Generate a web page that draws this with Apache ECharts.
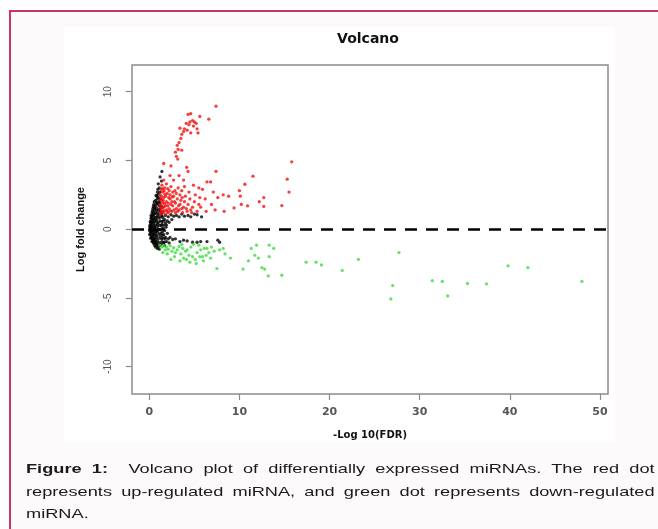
<!DOCTYPE html>
<html><head><meta charset="utf-8">
<script src="https://cdn.jsdelivr.net/npm/echarts@6/dist/echarts.min.js"></script>
<style>
html,body{margin:0;padding:0;width:658px;height:529px;overflow:hidden;background:#fff;}
#frame{position:absolute;left:9px;top:10px;width:720px;height:600px;border:2px solid #c8375f;background:#fdfafb;box-sizing:border-box;}
#img{position:absolute;left:64px;top:27px;width:551px;height:415px;background:#fff;}
#chart{position:absolute;left:0;top:0;width:658px;height:529px;}
.cap{position:absolute;left:26px;width:449px;font-family:"Liberation Sans",Arial,sans-serif;font-size:13px;line-height:16px;color:#1a1a1a;white-space:nowrap;transform:scaleX(1.4);transform-origin:0 0;}
.just{text-align:justify;text-align-last:justify;white-space:normal;}
</style>
</head><body>
<div id="frame"></div>
<div id="img"></div>
<div id="chart"></div>
<div class="cap just" style="top:461px"><b>Figure 1:</b>&nbsp; Volcano plot of differentially expressed miRNAs. The red dot</div>
<div class="cap just" style="top:483.5px">represents up-regulated miRNA, and green dot represents down-regulated</div>
<div class="cap" style="top:506px">miRNA.</div>
<script>
const xTicks = [0, 10, 20, 30, 40, 50];
const yTicks = [-10, -5, 0, 5, 10];

const blackPts = [
[0.7,2.1],[0.9,2.2],[1.1,2.0],[0.8,1.95],[0.5,1.8],[0.7,1.75],[0.9,1.85],[1.1,1.7],[0.6,1.6],
[0.4,1.5],[0.6,1.45],[0.8,1.55],[1.0,1.4],[1.2,1.5],[0.35,1.35],
[0.3,1.2],[0.5,1.25],[0.7,1.15],[0.9,1.2],[1.1,1.1],[1.3,1.2],[0.4,1.05],
[0.25,0.9],[0.45,0.95],[0.65,0.85],[0.85,0.9],[1.05,0.8],[1.25,0.9],[1.5,0.85],[0.3,0.75],
[0.2,0.6],[0.4,0.65],[0.6,0.55],[0.8,0.6],[1.0,0.5],[1.2,0.6],[1.4,0.55],[0.15,0.45],
[0.15,0.3],[0.3,0.35],[0.5,0.25],[0.7,0.3],[0.9,0.2],[1.1,0.3],[1.3,0.25],[0.1,0.15],
[0.08,0.05],[0.2,0.0],[0.4,-0.05],[0.6,0.05],[0.8,-0.1],[1.0,0.0],[1.2,-0.05],[0.1,-0.15],
[0.12,-0.3],[0.3,-0.25],[0.5,-0.35],[0.7,-0.3],[0.9,-0.2],[1.1,-0.35],[1.3,-0.3],[0.2,-0.45],
[0.25,-0.6],[0.4,-0.55],[0.6,-0.65],[0.8,-0.6],[1.0,-0.7],[1.2,-0.55],[1.5,-0.65],[0.35,-0.75],
[0.4,-0.9],[0.55,-0.85],[0.75,-0.95],[0.95,-0.9],[1.15,-1.0],[1.4,-0.9],[0.5,-1.05],
[0.6,-1.2],[0.8,-1.15],[1.0,-1.25],[1.2,-1.2],[0.9,-1.4],[1.1,-1.45],
[0.55,2.0],[1.0,1.9],[0.45,1.65],[0.75,1.35],[0.55,1.1],[0.35,1.0],[0.95,1.0],[0.2,0.8],
[0.55,0.75],[0.75,0.7],[0.3,0.5],[0.5,0.45],[0.9,0.4],[0.25,0.2],[0.6,0.15],[0.35,0.1],
[0.15,-0.05],[0.5,-0.15],[0.7,-0.15],[0.25,-0.15],[0.4,-0.4],[0.6,-0.45],[0.85,-0.45],[0.3,-0.65],
[0.5,-0.75],[0.7,-0.8],[0.45,-0.95],[0.65,-1.0],[0.85,-1.1],[0.7,-1.3],[1.3,-1.1],[1.6,-0.4],
[1.6,0.3],[1.7,0.7],[1.4,1.0],[1.2,1.35],[1.3,1.7],[1.0,2.3],[0.85,2.4],
[1.5,0.1],[1.7,-0.1],[1.8,0.45],[1.45,-0.2],[1.55,0.6],[1.75,-0.7],[1.45,-0.45],[1.4,0.35],
[1.85,0.15],[1.65,-0.95],[1.35,-0.7],[1.5,1.25],[1.45,1.6],[0.02,-0.05],[0.05,0.25],[0.05,-0.4],
[0.1,0.55],[0.15,-0.65],[0.2,1.0],[0.3,-0.9],[1.15,1.9],[1.25,2.2],[0.75,2.45],[1.55,-1.0],
[1.2,3.8],[1.0,3.3],[1.1,3.0],[0.9,2.7],[1.0,2.55],[1.2,2.7],[0.95,2.9],[1.4,4.2],[1.35,3.5],
[1.8,1.0],[2.1,0.9],[2.4,1.05],[2.7,0.95],[3.0,1.0],[3.3,0.9],[3.6,1.1],[3.9,0.95],[4.3,1.0],
[4.6,0.9],[5.0,1.1],[5.3,1.05],[5.8,0.9],[2.0,0.6],[2.5,0.7],[1.9,0.3],[2.2,0.5],
[1.8,-0.6],[2.1,-0.7],[2.3,-0.6],[2.6,-0.75],[2.9,-0.7],[3.4,-0.9],[3.8,-0.8],[4.2,-0.85],
[4.8,-0.95],[5.3,-0.95],[5.7,-0.9],[6.4,-0.9],[7.6,-0.8],[7.8,-0.95],[1.9,-0.9],[2.2,-1.0],
[1.7,-1.2],[2.0,-0.3]
];

const redPts = [
[7.4,8.95],[6.6,8.0],[5.6,8.2],[4.3,8.35],[4.6,8.4],[4.8,7.9],[5.0,7.8],[5.2,7.7],[4.5,7.8],
[4.1,7.7],[4.4,7.6],[4.9,7.5],[5.3,7.3],[3.9,7.3],[4.2,7.2],[4.6,7.0],[3.8,7.1],[3.6,6.9],
[3.5,6.6],[3.3,6.3],[3.1,6.1],[3.2,5.8],[2.9,5.6],[3.0,5.3],[3.15,5.1],[5.4,7.0],[3.4,7.35],
[3.6,5.75],
[1.6,4.78],[2.4,4.6],[4.15,4.5],[4.3,4.2],[7.4,4.2],[6.4,3.44],[6.8,3.44],[2.3,3.9],[3.3,3.9],
[2.7,3.57],[3.8,3.57],[1.6,3.57],[15.8,4.9],[15.3,3.64],[15.5,2.7],[11.5,3.86],[14.7,1.72],
[12.7,2.3],[12.7,1.66],[12.2,2.0],[10.6,3.27],[10.0,2.8],[10.1,2.4],[10.9,1.7],[10.2,1.8],
[9.4,1.55],[8.8,2.4],[8.2,2.5],[7.6,2.3],[8.3,1.3],[7.3,1.4],[6.3,1.3],[5.7,1.6],[6.9,1.8],
[7.1,2.7],[5.9,2.9],[6.2,2.2],[5.5,3.0],[4.9,3.2],
[1.2,1.1],[1.3,1.4],[1.2,1.8],[1.3,2.2],[1.2,2.5],[1.3,2.9],[1.4,3.2],
[1.5,1.2],[1.6,1.6],[1.5,1.9],[1.6,2.3],[1.5,2.7],[1.7,3.0],
[1.8,1.1],[1.9,1.4],[1.8,1.7],[1.9,2.0],[1.8,2.4],[2.0,2.6],[1.9,3.3],
[2.1,1.2],[2.2,1.5],[2.1,1.9],[2.3,2.2],[2.2,2.8],[2.4,3.1],
[2.5,1.3],[2.6,1.7],[2.5,2.0],[2.7,2.4],[2.6,2.7],
[2.9,1.2],[3.0,1.5],[2.9,1.9],[3.1,2.2],[3.0,2.6],[3.2,3.0],
[3.3,1.4],[3.4,1.8],[3.5,2.1],[3.4,2.5],[3.6,2.8],
[3.7,1.2],[3.8,1.6],[3.9,2.0],[4.0,2.4],[3.9,3.1],
[4.2,1.3],[4.3,1.8],[4.5,2.2],[4.4,2.7],
[4.7,1.2],[4.8,1.6],[5.0,2.0],[5.1,2.5],
[5.3,1.3],[5.5,1.8],[5.6,2.3],
[1.35,1.25],[1.45,1.55],[1.4,2.05],[1.65,1.35],[1.7,1.85],[1.75,2.55],[2.0,1.3],[2.05,1.7],
[2.35,1.35],[2.4,1.8],[2.3,2.5],[2.75,1.4],[2.8,2.0],[2.85,2.8],[3.15,1.3],[3.25,1.7],[3.6,1.5],
[3.65,2.3],[4.1,1.5],[4.6,1.4],[1.25,1.6],[1.35,2.4],[1.55,2.1],[1.65,2.8],[2.15,2.3],[2.55,2.35],
[1.45,2.95],[2.05,2.95]
];

const greenPts = [
[1.2,-1.16],[1.4,-1.3],[1.6,-1.2],[1.77,-1.5],[1.9,-1.3],[2.1,-1.45],[2.3,-1.2],[2.5,-1.6],
[2.7,-1.35],[2.9,-1.7],[3.1,-1.5],[3.3,-1.25],[3.5,-1.8],[3.7,-1.4],[3.8,-2.1],[4.0,-1.6],
[4.2,-1.5],[4.4,-1.9],[4.6,-1.3],[4.8,-2.0],[5.1,-2.2],[5.3,-1.7],[5.5,-1.16],[5.7,-1.5],
[5.9,-2.0],[6.1,-1.4],[6.4,-1.4],[6.6,-1.7],[6.9,-1.3],[7.5,-2.86],[7.8,-1.5],[8.2,-1.4],
[8.4,-1.8],[9.0,-2.1],[10.4,-2.9],[11.0,-2.3],[11.3,-1.4],[11.9,-1.16],[11.7,-1.9],[12.1,-2.1],
[12.5,-2.8],[12.8,-2.9],[13.2,-3.4],[13.3,-1.16],[13.8,-1.4],[13.3,-2.0],[14.7,-3.35],[17.4,-2.4],
[18.5,-2.4],[19.1,-2.6],[21.4,-3.0],[23.2,-2.2],[27.7,-1.7],[27.0,-4.1],[26.8,-5.07],[31.4,-3.74],
[32.5,-3.8],[33.1,-4.85],[35.3,-3.95],[37.4,-3.97],[39.8,-2.67],[42.0,-2.79],[48.0,-3.8],
[2.0,-1.8],[2.8,-2.0],[3.4,-2.3],[4.1,-2.2],[4.5,-2.4],[5.2,-2.5],[6.0,-2.3],[6.8,-2.1],
[7.2,-1.6],[3.6,-1.1],[4.9,-1.1],[2.4,-2.2],[1.5,-1.7],[5.6,-2.0],[6.3,-1.9]
];

const tickStyle = {show:true, length:6, inside:false, lineStyle:{color:'#8a8a8a', width:1.2}};
const chart = echarts.init(document.getElementById('chart'), null, {renderer:'canvas'});
chart.setOption({
  animation:false,
  backgroundColor:'transparent',
  title:{text:'Volcano', left:368, top:32, textAlign:'center', padding:0,
    textStyle:{fontFamily:'DejaVu Sans', fontWeight:'bold', fontSize:14, color:'#111'}},
  grid:[
    {left:132, top:65, width:476, height:329, show:true, borderColor:'#8c8c8c', borderWidth:1.5, backgroundColor:'transparent'},
    {left:149.3, top:91.7, width:450.7, height:275}
  ],
  xAxis:[
    {gridIndex:0, type:'value', min:-1.96, max:50.97, axisLine:{show:false, onZero:false}, axisTick:{show:false}, axisLabel:{show:false}, splitLine:{show:false},
     name:'-Log 10(FDR)', nameLocation:'middle', nameGap:36,
     nameTextStyle:{fontFamily:'DejaVu Sans', fontWeight:'bold', fontSize:10, color:'#111'}},
    {gridIndex:1, type:'value', min:xTicks[0], max:xTicks[xTicks.length-1], interval:10, offset:27.3, position:'bottom',
     axisLine:{show:false, onZero:false}, axisTick:tickStyle, splitLine:{show:false},
     axisLabel:{margin:13, fontFamily:'DejaVu Sans', fontWeight:'bold', fontSize:11, color:'#555'}}
  ],
  yAxis:[
    {gridIndex:0, type:'value', min:-12, max:12, axisLine:{show:false, onZero:false}, axisTick:{show:false}, axisLabel:{show:false}, splitLine:{show:false},
     name:'Log fold change', nameLocation:'middle', nameRotate:90, nameGap:46,
     nameTextStyle:{fontFamily:'Liberation Sans', fontWeight:'bold', fontSize:11, color:'#111'}},
    {gridIndex:1, type:'value', min:yTicks[0], max:yTicks[yTicks.length-1], interval:5, offset:17.6, position:'left',
     axisLine:{show:false, onZero:false}, axisTick:tickStyle, splitLine:{show:false},
     axisLabel:{rotate:90, margin:18, fontFamily:'Liberation Sans', fontSize:10, color:'#555'}}
  ],
  series:[
    {type:'scatter', xAxisIndex:1, yAxisIndex:1, data:blackPts, symbolSize:3.3, itemStyle:{color:'#000'}, clip:false, silent:true},
    {type:'scatter', xAxisIndex:1, yAxisIndex:1, data:redPts, symbolSize:3.3, itemStyle:{color:'#f21010'}, clip:false, silent:true},
    {type:'scatter', xAxisIndex:1, yAxisIndex:1, data:greenPts, symbolSize:3.3, itemStyle:{color:'#3fdc3f'}, clip:false, silent:true},
    {type:'line', xAxisIndex:0, yAxisIndex:0, data:[], silent:true,
     markLine:{silent:true, symbol:['none','none'], label:{show:false}, animation:false,
       lineStyle:{color:'#000', width:2.6, type:[12,9]}, data:[{yAxis:0}]}}
  ]
});
</script>
</body></html>
